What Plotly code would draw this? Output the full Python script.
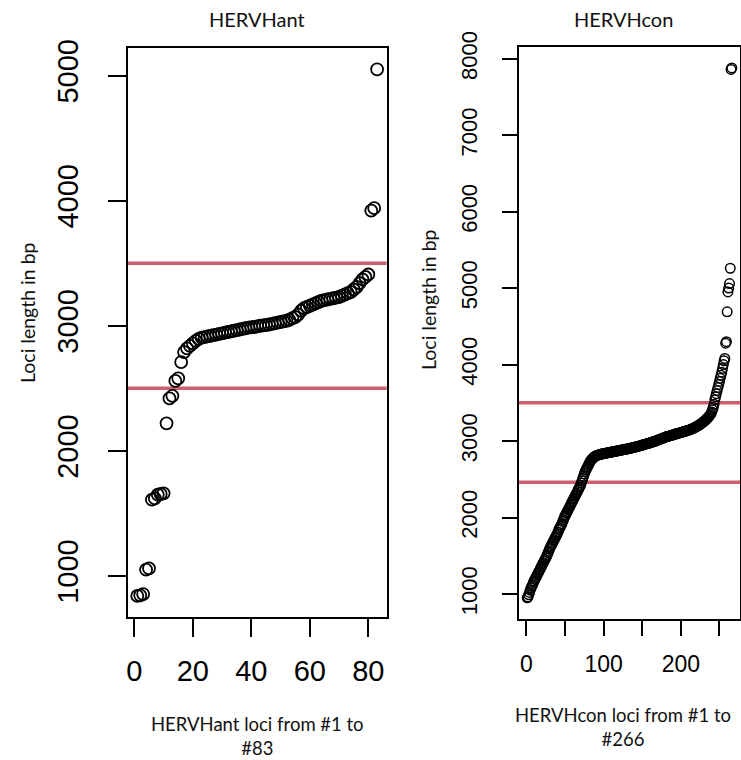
import plotly.graph_objects as go

# ---------------- data ----------------
ant_lengths = [
    840, 845, 855, 1050, 1060, 1610, 1620, 1650, 1655, 1660,
    2220, 2420, 2440, 2560, 2580, 2710, 2790, 2820, 2840, 2860,
    2880, 2895, 2905, 2910, 2915, 2920, 2925, 2930, 2935, 2940,
    2945, 2950, 2955, 2960, 2965, 2970, 2975, 2980, 2985, 2988,
    2990, 2995, 3000, 3003, 3006, 3010, 3015, 3020, 3025, 3030,
    3035, 3040, 3048, 3060, 3070, 3090, 3120, 3140, 3150, 3160,
    3170, 3180, 3190, 3200, 3205, 3210, 3215, 3220, 3225, 3230,
    3240, 3250, 3260, 3270, 3290, 3310, 3340, 3370, 3390, 3410,
    3920, 3940, 5050,
]

con_lengths = [
    950, 960, 990, 1020, 1050, 1080, 1100, 1120, 1150, 1170,
    1190, 1210, 1230, 1250, 1270, 1290, 1310, 1330, 1350, 1370,
    1390, 1410, 1430, 1450, 1470, 1490, 1510, 1540, 1560, 1590,
    1610, 1630, 1650, 1670, 1690, 1710, 1730, 1750, 1770, 1790,
    1810, 1840, 1860, 1880, 1900, 1920, 1950, 1970, 2000, 2020,
    2040, 2060, 2080, 2100, 2120, 2140, 2160, 2180, 2200, 2220,
    2240, 2260, 2280, 2300, 2320, 2340, 2360, 2380, 2400, 2420,
    2450, 2480, 2510, 2540, 2570, 2600, 2620, 2640, 2660, 2680,
    2700, 2720, 2740, 2755, 2765, 2775, 2785, 2795, 2800, 2805,
    2810, 2815, 2818, 2821, 2824, 2827, 2830, 2832, 2834, 2836,
    2838, 2840, 2842, 2844, 2846, 2848, 2850, 2852, 2854, 2856,
    2858, 2860, 2862, 2864, 2866, 2868, 2870, 2872, 2874, 2876,
    2878, 2880, 2882, 2884, 2886, 2888, 2890, 2892, 2894, 2896,
    2898, 2900, 2902, 2905, 2907, 2910, 2912, 2915, 2917, 2920,
    2922, 2925, 2928, 2930, 2933, 2936, 2938, 2941, 2944, 2947,
    2950, 2953, 2956, 2959, 2962, 2965, 2968, 2971, 2974, 2977,
    2980, 2983, 2986, 2990, 2993, 2997, 3000, 3004, 3008, 3012,
    3016, 3020, 3024, 3028, 3032, 3036, 3040, 3044, 3048, 3052,
    3055, 3058, 3061, 3064, 3067, 3070, 3073, 3076, 3079, 3082,
    3085, 3088, 3091, 3094, 3097, 3100, 3103, 3106, 3109, 3112,
    3115, 3118, 3121, 3124, 3127, 3130, 3133, 3136, 3139, 3142,
    3146, 3150, 3154, 3158, 3162, 3167, 3172, 3177, 3182, 3188,
    3194, 3200, 3206, 3212, 3219, 3226, 3233, 3241, 3249, 3257,
    3266, 3275, 3285, 3295, 3306, 3318, 3330, 3345, 3360, 3380,
    3410, 3440, 3480, 3540, 3580, 3620, 3660, 3700, 3740, 3780,
    3820, 3860, 3900, 3950, 4000, 4050, 4080, 4280, 4300, 4690,
    4950, 5000, 5060, 5260, 7860, 7880,
]

ant_index = list(range(1, len(ant_lengths) + 1))
con_index = list(range(1, len(con_lengths) + 1))

ant_cutoffs = [3500, 2500]
con_cutoffs = [3500, 2460]

ant_xticks = [0, 20, 40, 60, 80]
ant_yticks = [1000, 2000, 3000, 4000, 5000]
con_xticks = [0, 50, 100, 150, 200, 250]
con_xticktext = ["0", "", "100", "", "200", ""]
con_yticks = [1000, 2000, 3000, 4000, 5000, 6000, 7000, 8000]

ant_title = "HERVHant"
con_title = "HERVHcon"
ylab = "Loci length in bp"
ant_xlab = "HERVHant loci from #1 to<br>#83"
con_xlab = "HERVHcon loci from #1 to<br>#266"

# ---------------- styling ----------------
W, H = 741, 760
RED = "#CF5F6F"
TICKFONT = "Liberation Sans, Arial, sans-serif"
LABFONT = "Lato, Carlito, Calibri, sans-serif"


def r_range(vals):
    lo, hi = min(vals), max(vals)
    pad = 0.04 * (hi - lo)
    return [lo - pad, hi + pad]


fig = go.Figure()

fig.add_trace(go.Scatter(
    x=ant_index, y=ant_lengths, mode="markers", xaxis="x", yaxis="y",
    marker=dict(symbol="circle-open", size=12, color="black",
                line=dict(width=1.8, color="black")),
    hoverinfo="x+y", showlegend=False,
))
fig.add_trace(go.Scatter(
    x=con_index, y=con_lengths, mode="markers", xaxis="x2", yaxis="y2",
    marker=dict(symbol="circle-open", size=9.5, color="black",
                line=dict(width=1.5, color="black")),
    hoverinfo="x+y", showlegend=False,
))

shapes = []
for c in ant_cutoffs:
    shapes.append(dict(type="line", xref="x domain", yref="y", x0=0, x1=1,
                       y0=c, y1=c, line=dict(color=RED, width=3.5), layer="below"))
for c in con_cutoffs:
    shapes.append(dict(type="line", xref="x2 domain", yref="y2", x0=0, x1=1,
                       y0=c, y1=c, line=dict(color=RED, width=3.5), layer="below"))

common = dict(showline=True, mirror=True, linecolor="black", linewidth=1.8,
              ticks="outside", tickcolor="black", tickwidth=1.6,
              showgrid=False, zeroline=False, automargin=False)

fig.update_layout(
    width=W, height=H,
    margin=dict(l=0, r=0, t=0, b=0, autoexpand=False),
    paper_bgcolor="white", plot_bgcolor="white",
    shapes=shapes,
    xaxis=dict(domain=[127.7 / W, 386.7 / W], range=r_range(ant_index),
               tickvals=ant_xticks, ticklen=18, ticklabelstandoff=9,
               tickfont=dict(family=TICKFONT, size=29, color="black"),
               anchor="y", **common),
    yaxis=dict(domain=[(H - 617) / H, (H - 48.3) / H], range=r_range(ant_lengths),
               tickvals=ant_yticks, ticklen=18, tickangle=-90, ticklabelstandoff=18,
               tickfont=dict(family=TICKFONT, size=29, color="black"),
               anchor="x", **common),
    xaxis2=dict(domain=[519 / W, 740 / W], range=r_range(con_index),
                tickvals=con_xticks, ticktext=con_xticktext, ticklen=15,
                ticklabelstandoff=8,
                tickfont=dict(family=TICKFONT, size=23, color="black"),
                anchor="y2", **common),
    yaxis2=dict(domain=[(H - 619) / H, (H - 46.7) / H], range=r_range(con_lengths),
                tickvals=con_yticks, ticklen=15, tickangle=-90, ticklabelstandoff=16,
                tickfont=dict(family=TICKFONT, size=22, color="black"),
                anchor="x2", **common),
)

annos = [
    dict(text=ant_title, x=257 / W, y=1 - 19 / H, size=20, angle=0),
    dict(text=con_title, x=623 / W, y=1 - 19 / H, size=20, angle=0),
    dict(text=ylab, x=27 / W, y=1 - 313 / H, size=19.5, angle=-90),
    dict(text=ylab, x=428 / W, y=1 - 300 / H, size=19.5, angle=-90),
    dict(text=ant_xlab, x=257 / W, y=1 - 736 / H, size=18.5, angle=0),
    dict(text=con_xlab, x=623 / W, y=1 - 727 / H, size=18.5, angle=0),
]
for a in annos:
    fig.add_annotation(text=a["text"], x=a["x"], y=a["y"], xref="paper", yref="paper",
                       xanchor="center", yanchor="middle", showarrow=False,
                       textangle=a["angle"],
                       font=dict(family=LABFONT, size=a["size"], color="#111111"))

fig.write_html("out.html")
